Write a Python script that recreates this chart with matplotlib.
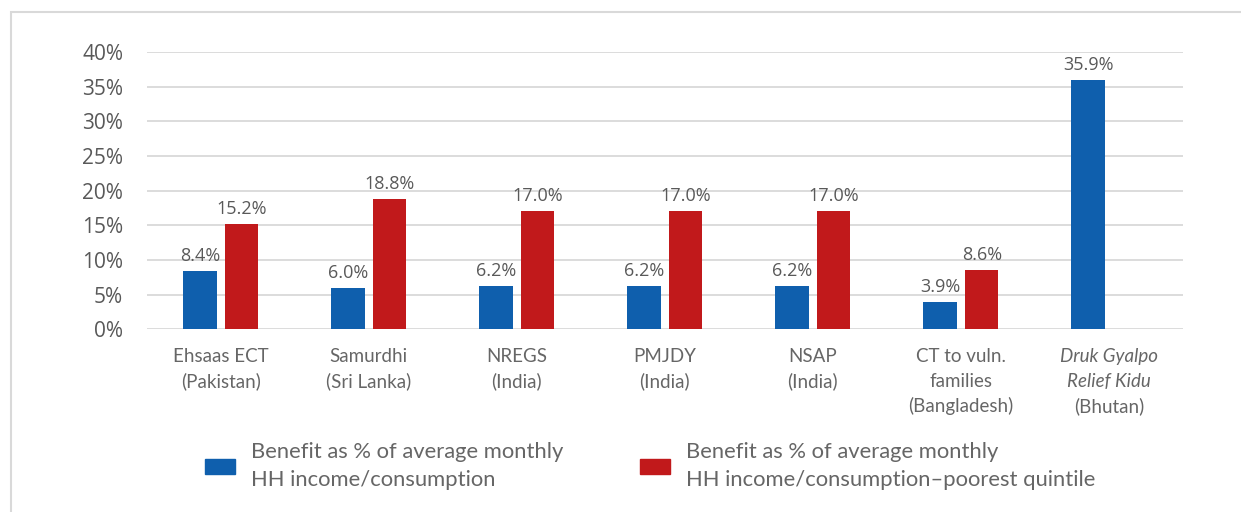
import numpy as np
import matplotlib
matplotlib.use("Agg")
import matplotlib.pyplot as plt
import matplotlib.transforms as mtransforms
from matplotlib.patches import Patch, Rectangle

categories = ["Ehsaas ECT\n(Pakistan)", "Samurdhi\n(Sri Lanka)", "NREGS\n(India)",
              "PMJDY\n(India)", "NSAP\n(India)", "CT to vuln.\nfamilies\n(Bangladesh)",
              "Druk Gyalpo\nRelief Kidu\n(Bhutan)"]
# lines drawn in italics (category index, line index)
italic_lines = [(6, 0), (6, 1)]

avg_hh = [8.4, 6.0, 6.2, 6.2, 6.2, 3.9, 35.9]
poorest = [15.2, 18.8, 17.0, 17.0, 17.0, 8.6, np.nan]

series_labels = ["Benefit as % of average monthly\nHH income/consumption",
                 "Benefit as % of average monthly\nHH income/consumption\u2013poorest quintile"]
yticks = [0, 5, 10, 15, 20, 25, 30, 35, 40]

blue = "#0F5FAD"
red = "#C1191B"
grey = "#595959"
grid = "#D9D9D9"

W, H = 1241, 512
fig = plt.figure(figsize=(W / 100, H / 100), dpi=100)
ax = fig.add_axes([146.7 / W, 1 - 329.3 / H, (1183 - 146.7) / W, (329.3 - 52) / H])

# outer frame (only top and left edges visible)
fig.patches.append(Rectangle((10.5 / W, -0.1), 1.2, 1.1 - 11.5 / H, transform=fig.transFigure,
                             fill=False, edgecolor="#D9D9D9", linewidth=1.5))

x = np.arange(len(categories))
bw = 0.225
off = 0.141
b1 = ax.bar(x - off, avg_hh, bw, color=blue, zorder=3)
b2 = ax.bar(x + off, poorest, bw, color=red, zorder=3)

for bars, vals in [(b1, avg_hh), (b2, poorest)]:
    for rect, v in zip(bars, vals):
        if np.isnan(v):
            continue
        ax.annotate(f"{v:.1f}%", (rect.get_x() + rect.get_width() / 2, v),
                    xytext=(0, 7.2), textcoords="offset points", ha="center", va="baseline",
                    fontsize=13, color=grey, family="Open Sans")

ax.set_xlim(-0.5, len(categories) - 0.5)
ax.set_ylim(0, 40)
ax.set_yticks(yticks)
ax.set_yticklabels([f"{t}%" for t in yticks], family="Open Sans", fontsize=15, color=grey)
ax.tick_params(axis="y", length=0, pad=17)
ax.tick_params(axis="x", length=0, labelbottom=False)
ax.yaxis.grid(True, color=grid, linewidth=1.3, zorder=0)
for s in ax.spines.values():
    s.set_visible(False)

trans = mtransforms.blended_transform_factory(ax.transData, ax.transAxes)
for i, lab in enumerate(categories):
    for j, line in enumerate(lab.split("\n")):
        style = "italic" if (i, j) in italic_lines else "normal"
        ax.annotate(line, (i, 0), xycoords=trans, xytext=(0, -(32.7 + 25 * j) * 0.72),
                    textcoords="offset points", ha="center", va="baseline",
                    fontsize=13.5, color="#666666", family="Lato", style=style)

fs = 15.8
fpx = fs * 100 / 72
handles = [Patch(color=blue), Patch(color=red)]
leg = fig.legend(handles, series_labels, loc="center", bbox_to_anchor=(650 / W, 46 / H),
                 ncol=2, frameon=False, prop={"family": "Lato", "size": fs},
                 handlelength=30 / fpx, handleheight=15 / fpx, handletextpad=16 / fpx,
                 columnspacing=76 / fpx, borderpad=0)
for t in leg.get_texts():
    t.set_color("#666666")
    t.set_linespacing(1.45)

fig.savefig("out.png", dpi=100, facecolor="white")
